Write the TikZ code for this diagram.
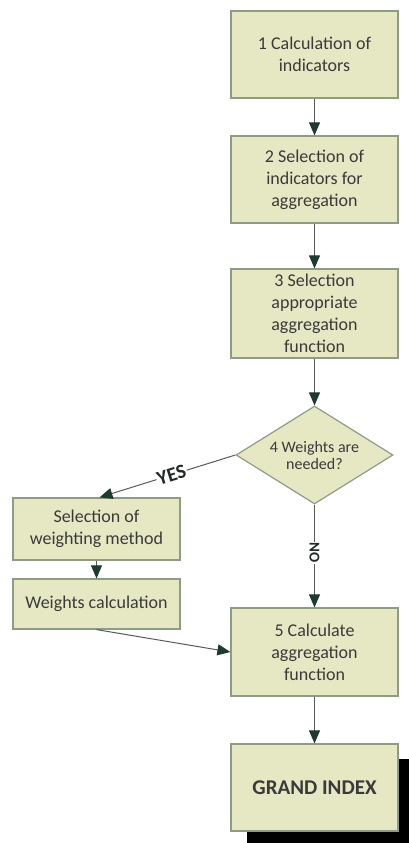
\documentclass[tikz,border=0pt]{standalone}
\usepackage{fontspec}
\setmainfont{Carlito}
\usetikzlibrary{shapes.geometric,arrows.meta,shadows}
\definecolor{boxfill}{HTML}{E6E8C3}
\definecolor{boxline}{HTML}{8E9C86}
\definecolor{tipcol}{HTML}{1F3A2E}
\definecolor{linecol}{HTML}{5A5A5A}
\definecolor{txtcol}{HTML}{3A3A3A}
\definecolor{lblcol}{HTML}{1E2B24}

\begin{document}
\begin{tikzpicture}[x=1pt,y=-1pt]
        \useasboundingbox (0,0) rectangle (408,843);

        \begin{scope}[every node/.style={rectangle,draw=boxline,line width=1.2pt,fill=boxfill,text=txtcol,
            minimum width=167pt,inner sep=2pt,align=center,font=\fontsize{18}{22}\selectfont}]
          \node[minimum height=87pt] (1)  at (314.5,54.5)  {1 Calculation of\\indicators};
          \node[minimum height=87pt] (2)  at (314.5,179.5) {2 Selection of\\indicators for\\aggregation};
          \node[minimum height=89pt] (3)  at (314.5,313.5) {3 Selection\\appropriate\\aggregation\\function};
          \node[diamond,aspect=1.6,minimum width=157pt,minimum height=98pt,inner sep=0pt,
                font=\fontsize{16}{17}\selectfont] (4) at (314.5,455) {4 Weights are\\needed?};
          \node[minimum height=62pt] (w1) at (96.5,529)    {Selection of\\weighting method};
          \node[minimum height=50pt] (w2) at (96.5,604)    {Weights calculation};
          \node[minimum height=88pt] (5)  at (314.5,652)   {5 Calculate\\aggregation\\function};
          \node[minimum height=87pt,font=\bfseries\fontsize{21}{25}\selectfont,
                drop shadow={opacity=1,fill=black,shadow xshift=16pt,shadow yshift=-15pt}]
                (gi) at (314.5,787.5) {GRAND INDEX};
        \end{scope}

        \begin{scope}[every node/.style={fill=white,text=lblcol,inner sep=1pt,font=\bfseries}]

          \begin{scope}[every edge/.style={draw=linecol,line width=1pt,-{Triangle[length=13pt,width=11pt,color=tipcol]}}]
            \path (1)  edge (2);
            \path (2)  edge (3);
            \path (3)  edge (4);
            \path (4.west) edge node[sloped,pos=0.47,font=\bfseries\fontsize{20}{22}\selectfont] {YES} ([xshift=3pt]w1.north);
            \path (4)  edge node[rotate=-90,pos=0.47,font=\bfseries\fontsize{15}{17}\selectfont] {NO} (5);
            \path (w1) edge (w2);
            \path (w2.south) edge (5.west);
            \path (5)  edge (gi);
          \end{scope}
        \end{scope}

      \end{tikzpicture}
\end{document}
